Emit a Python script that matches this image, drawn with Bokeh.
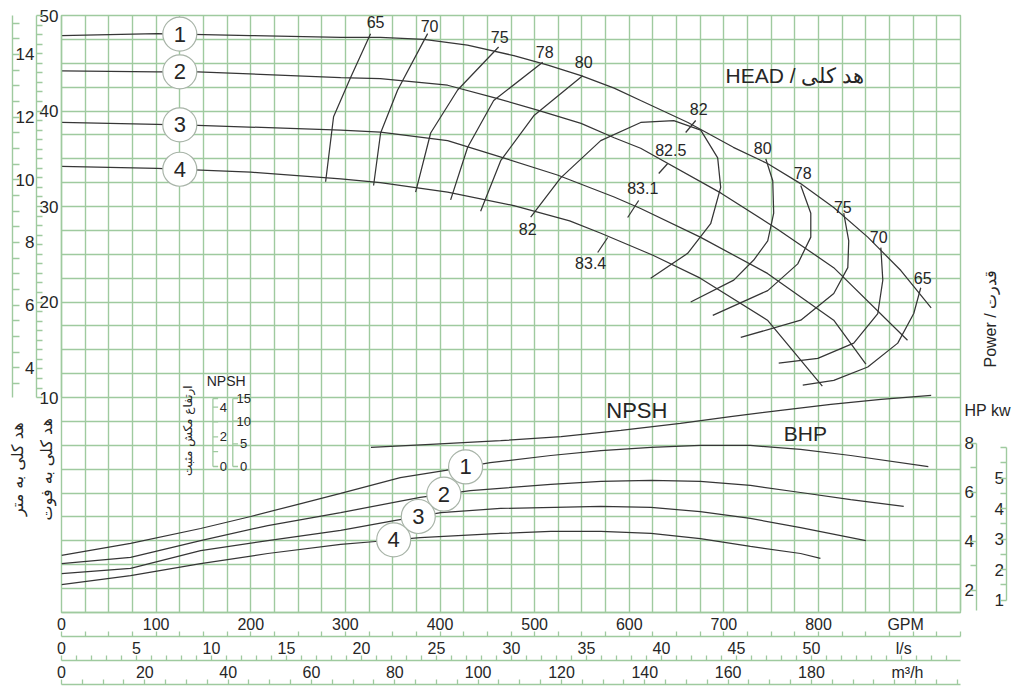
import math
import numpy as np
from bokeh.plotting import figure
from bokeh.models import Range1d, LinearAxis, FixedTicker
from bokeh.core.properties import value
from bokeh.embed import file_html
from bokeh.resources import INLINE

# ---------------- data ----------------
# Head-capacity curves, impellers 1..4 (flow GPM, head ft)
head1_gpm = [0, 101, 200, 295, 337, 383, 429, 478, 514, 549, 584, 612, 662, 710, 746, 781, 816, 852, 887, 919]
head1_ft = [47.9, 48.1, 47.9, 47.7, 47.7, 47.5, 46.9, 45.8, 44.8, 43.7, 42.4, 41.1, 38.8, 36.2, 34.5, 32.4, 29.9, 26.8, 23.3, 19.4]
head2_gpm = [0, 101, 144, 295, 337, 408, 457, 503, 549, 584, 612, 697, 757, 816, 894]
head2_ft = [44.2, 44.1, 44.1, 43.5, 43.4, 42.7, 41.4, 40.1, 38.7, 37.2, 36.1, 31.4, 27.6, 23.6, 16.0]
head3_gpm = [0, 101, 144, 295, 337, 408, 467, 524, 584, 612, 675, 746, 816, 850]
head3_ft = [38.8, 38.6, 38.5, 38.0, 37.8, 36.9, 35.1, 33.3, 31.0, 29.8, 26.8, 23.0, 18.1, 13.5]
head4_gpm = [0, 101, 200, 295, 337, 408, 478, 537, 570, 625, 675, 746, 804]
head4_ft = [34.2, 34.0, 33.6, 32.9, 32.5, 31.5, 30.1, 28.5, 27.2, 24.9, 22.5, 18.1, 11.2]

# Brake horsepower curves (flow GPM, power HP)
bhp1_gpm = [0, 73, 147, 200, 253, 295, 358, 406, 453, 517, 570, 623, 675, 728, 781, 834, 916]
bhp1_hp = [3.43, 3.92, 4.53, 5.02, 5.55, 5.96, 6.61, 6.90, 7.22, 7.51, 7.71, 7.84, 7.92, 7.92, 7.76, 7.51, 7.06]
bhp2_gpm = [0, 73, 147, 218, 295, 379, 432, 517, 570, 623, 675, 728, 781, 834, 890]
bhp2_hp = [3.10, 3.35, 4.04, 4.65, 5.18, 5.80, 6.08, 6.33, 6.45, 6.49, 6.45, 6.29, 6.00, 5.71, 5.43]
bhp3_gpm = [0, 73, 147, 218, 295, 353, 401, 464, 570, 623, 675, 728, 781, 850]
bhp3_hp = [2.69, 2.90, 3.63, 4.04, 4.45, 4.86, 5.18, 5.35, 5.43, 5.39, 5.22, 4.94, 4.57, 4.04]
bhp4_gpm = [0, 73, 147, 218, 295, 332, 379, 464, 517, 570, 623, 675, 728, 781, 802]
bhp4_hp = [2.24, 2.61, 3.10, 3.51, 3.88, 4.00, 4.16, 4.33, 4.41, 4.41, 4.33, 4.12, 3.80, 3.51, 3.31]

# NPSH required (flow GPM, NPSH ft)
npsh_gpm = [327, 390, 464, 528, 591, 654, 707, 760, 813, 866, 919]
npsh_ft = [4.2, 4.9, 5.7, 6.6, 8.0, 9.5, 11.0, 12.4, 13.7, 14.8, 15.7]

# Iso-efficiency lines (%), flow GPM / head ft
eff65L_gpm = [326.6, 305.5, 287.5, 279.1]; eff65L_ft = [48.1, 43.5, 39.4, 32.6]
eff70L_gpm = [386.9, 355.2, 337.2, 329.8]; eff70L_ft = [48.1, 42.2, 37.7, 32.2]
eff75L_gpm = [461.9, 418.6, 390.1, 374.2]; eff75L_ft = [46.7, 42.2, 37.7, 31.5]
eff78L_gpm = [508.5, 456.7, 429.2, 411.2]; eff78L_ft = [45.1, 41.1, 36.2, 30.7]
eff80L_gpm = [550.7, 499.0, 464.1, 442.9]; eff80L_ft = [43.7, 39.5, 34.8, 29.5]
eff82_gpm = [495.8, 527.5, 569.8, 612.1, 647.0, 675.5, 693.4, 696.6, 686.0, 661.7, 622.6]
eff82_ft = [28.9, 33.0, 36.9, 38.8, 39.0, 38.0, 35.1, 32.0, 28.2, 25.1, 22.5]
eff80R_gpm = [744.2, 751.6, 752.6, 746.3, 731.5, 710.4, 664.9]; eff80R_ft = [35.0, 32.7, 29.3, 26.4, 24.4, 22.3, 20.0]
eff78R_gpm = [781.2, 791.8, 791.8, 778.0, 746.3, 688.2]; eff78R_ft = [32.2, 29.3, 26.8, 24.0, 21.2, 18.6]
eff75R_gpm = [826.6, 831.9, 830.9, 816.1, 781.2, 717.8]; eff75R_ft = [29.3, 26.4, 23.6, 20.9, 18.1, 16.3]
eff70R_gpm = [865.8, 867.9, 862.6, 837.2, 799.2, 757.9]; eff70R_ft = [25.7, 22.3, 18.8, 15.7, 14.1, 13.6]
eff65R_gpm = [908.0, 900.6, 883.7, 852.0, 816.1, 783.3]; eff65R_ft = [21.5, 18.8, 15.7, 13.2, 11.8, 11.3]

# Best-efficiency marks crossing the head curves
bep_x0 = [659.6, 631.1, 598.3, 566.6]; bep_y0 = [37.75, 33.46, 28.85, 25.19]
bep_x1 = [670.2, 640.6, 609.9, 577.2]; bep_y1 = [39.01, 34.51, 30.63, 26.76]

eff_text = ["65", "70", "75", "78", "80", "82", "82.5", "83.1", "83.4", "82", "80", "78", "75", "70", "65"]
eff_text_gpm = [331.9, 389.0, 463.0, 510.6, 551.8, 673.4, 643.8, 614.2, 559.2, 492.6, 741.0, 783.3, 825.6, 863.6, 910.1]
eff_text_ft = [49.3, 48.85, 47.7, 46.13, 45.18, 40.16, 35.97, 31.89, 24.14, 27.7, 36.08, 33.46, 30.0, 26.76, 22.57]

curve_names = ["1", "2", "3", "4"]
head_badge_gpm = [125, 125, 125, 125]
bhp_badge_gpm = [427, 404, 377, 351]

# Axis ticks
gpm_ticks = [0, 100, 200, 300, 400, 500, 600, 700, 800]
ls_ticks = [0, 5, 10, 15, 20, 25, 30, 35, 40, 45, 50]
m3h_ticks = [0, 20, 40, 60, 80, 100, 120, 140, 160, 180]
ft_ticks = [10, 20, 30, 40, 50]
m_ticks = [4, 6, 8, 10, 12, 14]
hp_ticks = [2, 4, 6, 8]
kw_ticks = [1, 2, 3, 4, 5]
npsh_m_ticks = [0, 2, 4]
npsh_ft_ticks = [0, 5, 10, 15]

# unit conversions
GPM_PER_LS = 15.8503
GPM_PER_M3H = 4.40287
M_PER_FT = 0.3048
FT_PER_M = 1 / 0.3048

# ---------------- style ----------------
FONT = "Liberation Sans"
PFONT = "DejaVu Sans"
INK = "#262626"
LINE = "#363636"
GRID = "#9fca9f"

HP_RANGE = (1.102, 25.469)
KW_RANGE = (0.593, 20.167)


def hp_to_kw_units(h):
    return KW_RANGE[0] + (h - HP_RANGE[0]) * (KW_RANGE[1] - KW_RANGE[0]) / (HP_RANGE[1] - HP_RANGE[0])


p = figure(width=1014, height=686, output_backend="svg", toolbar_location=None,
           x_range=Range1d(0, 950), y_range=Range1d(-12.5, 50),
           x_axis_location=None, y_axis_location=None,
           min_border_left=61, min_border_right=54, min_border_top=15, min_border_bottom=74,
           background_fill_color="white", border_fill_color="white",
           outline_line_color=GRID, outline_line_width=1.4)
p.extra_x_ranges = {"ls": Range1d(0, 950 / GPM_PER_LS), "m3h": Range1d(0, 950 / GPM_PER_M3H)}
p.extra_y_ranges = {"m": Range1d(-12.5 * M_PER_FT, 50 * M_PER_FT),
                    "hp": Range1d(*HP_RANGE), "kw": Range1d(*KW_RANGE),
                    "npsh": Range1d(-32.23, 99.56)}

p.xgrid.ticker = FixedTicker(ticks=list(np.arange(0, 951, 25)))
p.ygrid.ticker = FixedTicker(ticks=list(np.arange(-12.5, 50.01, 2.5)))
p.xgrid.grid_line_color = GRID
p.ygrid.grid_line_color = GRID
p.xgrid.grid_line_width = 1.4
p.ygrid.grid_line_width = 1.4


def style(ax, fs="17px", standoff=2, tin=0, mtin=0, font=FONT, pad=None, pad_standoff=0):
    ax.major_tick_in = tin
    ax.major_tick_out = 0
    ax.minor_tick_in = mtin
    ax.minor_tick_out = 0
    ax.axis_line_color = GRID
    ax.axis_line_width = 1.4
    ax.major_tick_line_color = GRID
    ax.minor_tick_line_color = GRID
    ax.major_tick_line_width = 1.3
    ax.minor_tick_line_width = 1.3
    ax.major_label_text_font = font
    ax.major_label_text_font_size = fs
    ax.major_label_text_color = INK
    ax.major_label_standoff = standoff
    if pad is not None:  # invisible spacer to set the axis band height
        ax.axis_label = " "
        ax.axis_label_text_font_size = pad
        ax.axis_label_standoff = pad_standoff
    return ax


# positions of unit / caption labels that sit on the axes
GPM_UNIT_AT = 892.0
LS_UNIT_AT = round(890 / GPM_PER_LS, 3)
M3H_UNIT_AT = round(894 / GPM_PER_M3H, 3)
HPKW_AT = 9.35          # HP units
POWER_AT = 11.1         # HP units
HEAD_CAPTION_AT = 2.5   # ft units

# ---- left axes (inner: feet, middle: metres, outer: metre ticks, captions)
ax = LinearAxis(ticker=FixedTicker(ticks=ft_ticks), bounds=(10, 50))
p.add_layout(style(ax, standoff=3), "left")
ax = LinearAxis(y_range_name="m", bounds=(10 * M_PER_FT, 50 * M_PER_FT),
                ticker=FixedTicker(ticks=m_ticks, minor_ticks=[f * M_PER_FT for f in range(10, 51)]))
p.add_layout(style(ax, standoff=2, mtin=6), "left")
ax = LinearAxis(y_range_name="m", bounds=(10 * M_PER_FT, 50 * M_PER_FT),
                ticker=FixedTicker(ticks=[], minor_ticks=list(np.arange(3.5, 15.01, 0.5))))
p.add_layout(style(ax, standoff=0, mtin=7), "left")
ax = LinearAxis(ticker=FixedTicker(ticks=[HEAD_CAPTION_AT]), bounds=(2.0, 3.0),
                major_label_overrides={HEAD_CAPTION_AT: "هد کلی به متر"}, major_label_orientation="vertical")
style(ax, fs="16px", standoff=-15, font=PFONT)
ax.axis_line_color = None
p.add_layout(ax, "left")
ax = LinearAxis(ticker=FixedTicker(ticks=[HEAD_CAPTION_AT]), bounds=(2.0, 3.0),
                major_label_overrides={HEAD_CAPTION_AT: "هد کلی به فوت"}, major_label_orientation="vertical")
style(ax, fs="16px", standoff=-51, font=PFONT)
ax.axis_line_color = None
p.add_layout(ax, "left")

# ---- right axes (inner: HP, middle: kW, outer: kW ticks, captions)
ax = LinearAxis(y_range_name="hp", bounds=(1.2, 8.0), ticker=FixedTicker(ticks=hp_ticks))
p.add_layout(style(ax, standoff=4), "right")
ax = LinearAxis(y_range_name="kw", bounds=(hp_to_kw_units(1.2), hp_to_kw_units(8.0)),
                ticker=FixedTicker(ticks=kw_ticks, minor_ticks=[hp_to_kw_units(h) for h in range(2, 9)]))
p.add_layout(style(ax, standoff=18, mtin=6), "right")
ax = LinearAxis(y_range_name="kw", bounds=(1.0, 6.0),
                ticker=FixedTicker(ticks=[], minor_ticks=list(np.arange(1.0, 6.01, 0.5))))
p.add_layout(style(ax, standoff=0, mtin=6), "right")
ax = LinearAxis(y_range_name="hp", bounds=(9.0, 9.7), ticker=FixedTicker(ticks=[HPKW_AT]),
                major_label_overrides={HPKW_AT: "HP kw"})
style(ax, fs="16px", standoff=-42)
ax.axis_line_color = None
p.add_layout(ax, "right")
ax = LinearAxis(y_range_name="hp", bounds=(10.5, 11.5), ticker=FixedTicker(ticks=[POWER_AT]),
                major_label_overrides={POWER_AT: "Power / قدرت"}, major_label_orientation=math.pi / 2)
style(ax, fs="16px", standoff=-23)
ax.axis_line_color = None
p.add_layout(ax, "right")

# ---- bottom axes (GPM labels, l/s, m3/h, closing tick line)
ax = LinearAxis(ticker=FixedTicker(ticks=gpm_ticks + [GPM_UNIT_AT]), bounds=(0, 950),
                major_label_overrides={GPM_UNIT_AT: "GPM"})
p.add_layout(style(ax, fs="16px", standoff=3, pad="5px", pad_standoff=-8), "below")
ax = LinearAxis(x_range_name="ls", bounds=(0, 950 / GPM_PER_LS),
                major_label_overrides={LS_UNIT_AT: "l/s"},
                ticker=FixedTicker(ticks=ls_ticks + [LS_UNIT_AT], minor_ticks=[g / GPM_PER_LS for g in range(0, 951, 25)]))
p.add_layout(style(ax, fs="16px", standoff=3, mtin=5, pad="5px", pad_standoff=-8), "below")
ax = LinearAxis(x_range_name="m3h", bounds=(0, 950 / GPM_PER_M3H),
                major_label_overrides={M3H_UNIT_AT: "m³/h"},
                ticker=FixedTicker(ticks=m3h_ticks + [M3H_UNIT_AT],
                                   minor_ticks=[l * GPM_PER_LS / GPM_PER_M3H for l in range(0, 60)]))
p.add_layout(style(ax, fs="16px", standoff=3, mtin=5, pad="5px", pad_standoff=-8), "below")
ax = LinearAxis(x_range_name="m3h", bounds=(0, 950 / GPM_PER_M3H),
                ticker=FixedTicker(ticks=[], minor_ticks=list(range(0, 216, 5))))
p.add_layout(style(ax, fs="16px", standoff=0, mtin=5), "below")

# ---------------- curves ----------------
LW = 1.25
for xs, ys in [(head1_gpm, head1_ft), (head2_gpm, head2_ft), (head3_gpm, head3_ft), (head4_gpm, head4_ft),
               (eff65L_gpm, eff65L_ft), (eff70L_gpm, eff70L_ft), (eff75L_gpm, eff75L_ft),
               (eff78L_gpm, eff78L_ft), (eff80L_gpm, eff80L_ft), (eff82_gpm, eff82_ft),
               (eff80R_gpm, eff80R_ft), (eff78R_gpm, eff78R_ft), (eff75R_gpm, eff75R_ft),
               (eff70R_gpm, eff70R_ft), (eff65R_gpm, eff65R_ft)]:
    p.line(xs, ys, line_color=LINE, line_width=LW)
p.segment(x0=bep_x0, y0=bep_y0, x1=bep_x1, y1=bep_y1, line_color=LINE, line_width=LW)

for xs, ys in [(bhp1_gpm, bhp1_hp), (bhp2_gpm, bhp2_hp), (bhp3_gpm, bhp3_hp), (bhp4_gpm, bhp4_hp)]:
    p.line(xs, ys, line_color=LINE, line_width=LW, y_range_name="hp")
p.line(npsh_gpm, npsh_ft, line_color=LINE, line_width=LW, y_range_name="npsh")

# efficiency labels
p.text(x=eff_text_gpm, y=eff_text_ft, text=eff_text, text_font=value(FONT), text_font_size=value("16px"),
       text_color=INK, text_align="center", text_baseline="middle")

# numbered badges on curves
head_badge_ft = [float(np.interp(g, xs, ys)) for g, xs, ys in
                 zip(head_badge_gpm, [head1_gpm, head2_gpm, head3_gpm, head4_gpm],
                     [head1_ft, head2_ft, head3_ft, head4_ft])]
bhp_badge_hp = [float(np.interp(g, xs, ys)) for g, xs, ys in
                zip(bhp_badge_gpm, [bhp1_gpm, bhp2_gpm, bhp3_gpm, bhp4_gpm],
                    [bhp1_hp, bhp2_hp, bhp3_hp, bhp4_hp])]
p.scatter(head_badge_gpm, head_badge_ft, size=34, marker="circle", fill_color="white",
          line_color="#a8b4a8", line_width=1.2)
p.text(x=head_badge_gpm, y=head_badge_ft, text=curve_names, text_font=value(FONT),
       text_font_size=value("22px"), text_color=INK, text_align="center", text_baseline="middle")
p.scatter(bhp_badge_gpm, bhp_badge_hp, size=34, marker="circle", fill_color="white",
          line_color="#a8b4a8", line_width=1.2, y_range_name="hp")
p.text(x=bhp_badge_gpm, y=bhp_badge_hp, text=curve_names, text_font=value(FONT),
       text_font_size=value("22px"), text_color=INK, text_align="center", text_baseline="middle",
       y_range_name="hp")

# ---------------- NPSH inset scale ----------------
NP_M_X, NP_FT_X = 160, 181
p.segment(x0=[NP_M_X], y0=[0], x1=[NP_M_X], y1=[15], line_color=GRID, line_width=1.3, y_range_name="npsh")
p.segment(x0=[NP_M_X] * 6, y0=[m * FT_PER_M for m in range(5)] + [15],
          x1=[NP_M_X + 5.5] * 6, y1=[m * FT_PER_M for m in range(5)] + [15],
          line_color=GRID, line_width=1.3, y_range_name="npsh")
p.segment(x0=[NP_FT_X], y0=[0], x1=[NP_FT_X], y1=[15], line_color=GRID, line_width=1.3, y_range_name="npsh")
p.segment(x0=[NP_FT_X] * 4, y0=npsh_ft_ticks, x1=[NP_FT_X + 5.5] * 4, y1=npsh_ft_ticks,
          line_color=GRID, line_width=1.3, y_range_name="npsh")
p.text(x=[NP_M_X + 11] * 3, y=[m * FT_PER_M for m in npsh_m_ticks], text=[str(m) for m in npsh_m_ticks],
       text_font=value(FONT), text_font_size=value("13px"), text_color=INK,
       text_align="center", text_baseline="middle", y_range_name="npsh")
p.text(x=[NP_FT_X + 11.5] * 4, y=npsh_ft_ticks, text=[str(f) for f in npsh_ft_ticks],
       text_font=value(FONT), text_font_size=value("13px"), text_color=INK,
       text_align="center", text_baseline="middle", y_range_name="npsh")
p.text(x=[174], y=[18.8], text=["NPSH"], text_font=value(FONT), text_font_size=value("14px"),
       text_color=INK, text_align="center", text_baseline="middle", y_range_name="npsh")
p.text(x=[134], y=[7.9], text=["ارتفاع مکش مثبت"], text_font=value(PFONT), text_font_size=value("12px"),
       text_color=INK, text_align="center", text_baseline="middle", angle=math.pi / 2, y_range_name="npsh")

# ---------------- titles inside ----------------
p.text(x=[775], y=[43.7], text=["HEAD / هد کلی"], text_font=value(FONT), text_font_size=value("21px"),
       text_color=INK, text_align="center", text_baseline="middle")
p.text(x=[608], y=[8.65], text=["NPSH"], text_font=value(FONT), text_font_size=value("22px"),
       text_color=INK, text_align="center", text_baseline="middle")
p.text(x=[786], y=[6.24], text=["BHP"], text_font=value(FONT), text_font_size=value("21px"),
       text_color=INK, text_align="center", text_baseline="middle")

open("out.html", "w").write(file_html(p, INLINE))
